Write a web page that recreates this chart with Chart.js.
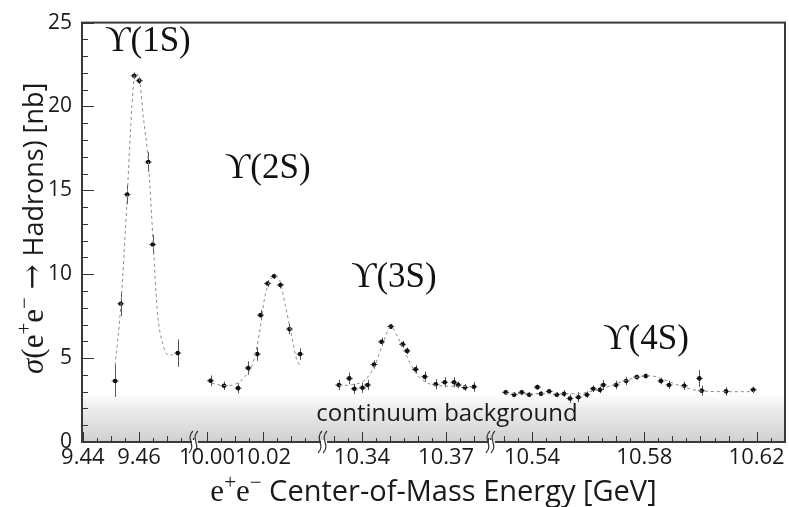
<!DOCTYPE html>
<html>
<head>
<meta charset="utf-8">
<script src="https://cdn.jsdelivr.net/npm/chart.js@4.4.1/dist/chart.umd.min.js"></script>
<style>
  html, body { margin: 0; padding: 0; background: #fff; }
  #wrap { width: 789px; height: 507px; }
</style>
</head>
<body>
<div id="wrap"><canvas id="chart" width="789" height="507"></canvas></div>
<script>
// pieces of the broken energy axis [GeV]
const SEGMENTS = [
  [9.4397, 9.4792],
  [9.9950, 10.0410],
  [10.3258, 10.3856],
  [10.5250, 10.6301],
];
const TICK_LABELS = [9.44, 9.46, 10.00, 10.02, 10.34, 10.37, 10.54, 10.58, 10.62];
const Y_MAX = 25;
const CONTINUUM_LEVEL = 2.9;

// measured cross sections (energy, sigma, error)
const energy1S = [9.4515, 9.4535, 9.4558, 9.4583, 9.4601, 9.4633, 9.4649, 9.4738];
const sigma1S = [3.64, 8.24, 14.75, 21.83, 21.54, 16.69, 11.77, 5.30];
const error1S = [0.95, 0.72, 0.58, 0.2, 0.2, 0.58, 0.58, 0.82];

const energy2S = [10.0013, 10.0061, 10.0111, 10.0147, 10.0179, 10.0191, 10.0216, 10.0239, 10.0262, 10.0294, 10.0332];
const sigma2S = [3.65, 3.35, 3.21, 4.41, 5.24, 7.56, 9.45, 9.88, 9.36, 6.73, 5.24];
const error2S = [0.32, 0.25, 0.3, 0.4, 0.4, 0.3, 0.2, 0.15, 0.2, 0.3, 0.35];

const energy3S = [10.3318, 10.3355, 10.3373, 10.3402, 10.3420, 10.3443, 10.3470, 10.3503, 10.3545, 10.3561, 10.3591, 10.3624, 10.3663, 10.3695, 10.3728, 10.3743, 10.3767, 10.3799];
const sigma3S = [3.40, 3.79, 3.17, 3.23, 3.40, 4.62, 5.97, 6.88, 5.82, 5.43, 4.33, 3.89, 3.44, 3.56, 3.56, 3.40, 3.25, 3.29];
const error3S = [0.3, 0.35, 0.3, 0.3, 0.3, 0.25, 0.25, 0.15, 0.2, 0.2, 0.25, 0.3, 0.3, 0.3, 0.3, 0.2, 0.2, 0.3];

const energy4S = [10.5306, 10.5336, 10.5363, 10.5390, 10.5419, 10.5432, 10.5461, 10.5488, 10.5514, 10.5535, 10.5565, 10.5595, 10.5618, 10.5642, 10.5654, 10.5699, 10.5735, 10.5773, 10.5805, 10.5859, 10.5888, 10.5942, 10.5996, 10.6004, 10.6091, 10.6188];
const sigma4S = [2.96, 2.82, 2.96, 2.82, 3.27, 2.88, 3.02, 2.82, 2.88, 2.59, 2.67, 2.82, 3.17, 3.11, 3.40, 3.40, 3.64, 3.87, 3.93, 3.64, 3.40, 3.35, 3.79, 3.06, 3.02, 3.11];
const error4S = [0.15, 0.15, 0.15, 0.15, 0.15, 0.15, 0.15, 0.15, 0.2, 0.25, 0.3, 0.2, 0.2, 0.2, 0.3, 0.25, 0.25, 0.15, 0.15, 0.2, 0.25, 0.25, 0.5, 0.3, 0.25, 0.2];

// fitted line shapes
const fitEnergy1S = [9.4515, 9.4535, 9.4556, 9.4574, 9.4586, 9.4601, 9.4615, 9.4633, 9.4651, 9.4665, 9.4687, 9.4710, 9.4728];
const fitSigma1S = [4.56, 8.06, 14.0, 19.8, 21.97, 21.68, 19.45, 16.74, 11.72, 7.85, 5.72, 5.14, 5.34];
const fitEnergy2S = [10.0017, 10.0064, 10.0100, 10.0135, 10.0165, 10.0189, 10.0206, 10.0224, 10.0242, 10.0260, 10.0278, 10.0302, 10.0319, 10.0331];
const fitSigma2S = [3.50, 3.36, 3.44, 3.89, 4.76, 6.69, 8.63, 9.59, 9.88, 9.59, 8.24, 6.30, 4.95, 4.56];
const fitEnergy3S = [10.3318, 10.3375, 10.3411, 10.3446, 10.3476, 10.3503, 10.3529, 10.3559, 10.3589, 10.3624, 10.3672, 10.3743, 10.3799];
const fitSigma3S = [3.36, 3.44, 3.69, 4.56, 5.92, 6.88, 6.21, 5.14, 4.18, 3.60, 3.36, 3.32, 3.29];
const fitEnergy4S = [10.5306, 10.5428, 10.5553, 10.5642, 10.5713, 10.5784, 10.5820, 10.5873, 10.5927, 10.5998, 10.6105, 10.6194];
const fitSigma4S = [2.90, 2.88, 2.88, 3.15, 3.55, 3.90, 3.95, 3.70, 3.35, 3.05, 3.00, 3.00];

const peakNames = ["ϒ(1S)", "ϒ(2S)", "ϒ(3S)", "ϒ(4S)"];
const peakLabelEnergy = [9.4632, 10.0217, 10.3514, 10.5806];
const peakLabelSigma = [23.84, 16.3, 9.8, 6.09];
const continuumLabel = { text: "continuum background", energy: 10.3703, sigma: 1.68 };

const SANS = '"Open Sans", "Noto Sans", sans-serif';
const SERIF = '"Liberation Serif", "DejaVu Serif", serif';

// energy -> position on the glued axis
const offsets = SEGMENTS.reduce((acc, [lo, hi], i) => [...acc, acc[i] + hi - lo], [0]);
const U_MAX = offsets[SEGMENTS.length];
const toU = (e) => {
  const i = SEGMENTS.findIndex(([lo, hi]) => e >= lo - 1e-9 && e <= hi + 1e-9);
  return offsets[i] + e - SEGMENTS[i][0];
};
const points = (es, ss) => es.map((e, i) => ({ x: toU(e), y: ss[i] }));

const measured = [
  [energy1S, sigma1S, error1S],
  [energy2S, sigma2S, error2S],
  [energy3S, sigma3S, error3S],
  [energy4S, sigma4S, error4S],
];
const fits = [
  [fitEnergy1S, fitSigma1S],
  [fitEnergy2S, fitSigma2S],
  [fitEnergy3S, fitSigma3S],
  [fitEnergy4S, fitSigma4S],
];

const fitDatasets = fits.map(([es, ss]) => ({
  data: points(es, ss),
  showLine: true,
  borderColor: "#8c8c8c",
  borderWidth: 1,
  borderDash: [3, 3],
  pointRadius: 0,
  cubicInterpolationMode: "monotone",
}));
const pointDatasets = measured.map(([es, ss, errs]) => ({
  data: points(es, ss),
  errors: errs,
  pointRadius: 2.3,
  pointBackgroundColor: "#111",
  pointBorderColor: "#111",
  pointBorderWidth: 0,
}));

const line = (ctx, x1, y1, x2, y2) => {
  ctx.beginPath();
  ctx.moveTo(x1, y1);
  ctx.lineTo(x2, y2);
  ctx.stroke();
};

const drawRuns = (ctx, runs, cx, baseline) => {
  const widths = runs.map((r) => {
    ctx.font = r.font;
    return ctx.measureText(r.t).width;
  });
  let x = cx - widths.reduce((a, b) => a + b, 0) / 2;
  ctx.textAlign = "left";
  ctx.textBaseline = "alphabetic";
  runs.forEach((r, i) => {
    ctx.font = r.font;
    ctx.fillText(r.t, x, baseline + (r.dy || 0));
    x += widths[i];
  });
};

const decorations = {
  id: "decorations",
  beforeDatasetsDraw(chart) {
    const { ctx, chartArea: area, scales } = chart;
    const { x: xs, y: ys } = scales;
    ctx.save();
    // continuum band
    const yTop = ys.getPixelForValue(CONTINUUM_LEVEL);
    const grad = ctx.createLinearGradient(0, yTop, 0, area.bottom);
    grad.addColorStop(0, "rgba(255,255,255,1)");
    grad.addColorStop(0.35, "#ebebeb");
    grad.addColorStop(1, "#d0d0d0");
    ctx.fillStyle = grad;
    ctx.fillRect(area.left, yTop, area.right - area.left, area.bottom - yTop);

    ctx.fillStyle = "#1a1a1a";
    ctx.font = "24px " + SANS;
    ctx.textAlign = "center";
    ctx.textBaseline = "middle";
    ctx.fillText(continuumLabel.text,
      xs.getPixelForValue(toU(continuumLabel.energy)),
      ys.getPixelForValue(continuumLabel.sigma));

    // error bars
    ctx.strokeStyle = "#555";
    ctx.lineWidth = 1;
    chart.data.datasets.forEach((ds, i) => {
      if (!ds.errors) return;
      chart.getDatasetMeta(i).data.forEach((pt, j) => {
        const v = ds.data[j].y;
        const x = Math.round(pt.x) + 0.5;
        line(ctx, x, ys.getPixelForValue(v + ds.errors[j]), x, ys.getPixelForValue(v - ds.errors[j]));
        line(ctx, pt.x - 3.5, pt.y, pt.x + 3.5, pt.y);
      });
    });
    ctx.restore();
  },
  afterDraw(chart) {
    const { ctx, chartArea: area, scales } = chart;
    const { x: xs, y: ys } = scales;
    ctx.save();
    ctx.strokeStyle = "#333";
    ctx.lineWidth = 1;

    // y ticks
    for (let v = 0; v <= Y_MAX; v++) {
      const y = Math.round(ys.getPixelForValue(v)) + 0.5;
      line(ctx, area.left, y, area.left + (v % 5 === 0 ? 12 : 6), y);
    }
    // x ticks, every 5 MeV inside each piece
    SEGMENTS.forEach(([lo, hi]) => {
      for (let k = Math.ceil(lo / 0.005 - 1e-6); k * 0.005 <= hi + 1e-9; k++) {
        const e = k * 0.005;
        const x = Math.round(xs.getPixelForValue(toU(e))) + 0.5;
        const labelled = TICK_LABELS.some((t) => Math.abs(t - e) < 1e-6);
        const len = labelled ? 10 : k % 2 === 0 ? 6 : 4;
        line(ctx, x, area.bottom, x, area.bottom - len);
      }
    });

    // frame
    ctx.strokeStyle = "#3a3a3a";
    ctx.lineWidth = 2;
    ctx.strokeRect(area.left, area.top, area.right - area.left, area.bottom - area.top);

    // axis break marks
    offsets.slice(1, SEGMENTS.length).forEach((u) => {
      const x = xs.getPixelForValue(u);
      const t = area.bottom - 11, b = area.bottom + 11;
      const wave = (dx) => {
        ctx.moveTo(x + dx + 2, t);
        ctx.bezierCurveTo(x + dx - 6, t + 8, x + dx + 6, b - 8, x + dx - 2, b);
      };
      ctx.fillStyle = "#fff";
      ctx.fillRect(x - 1, area.bottom - 2, 6, 4);
      ctx.strokeStyle = "#333";
      ctx.lineWidth = 1.2;
      ctx.beginPath();
      wave(-2);
      wave(3);
      ctx.stroke();
    });

    // peak labels
    ctx.fillStyle = "#111";
    ctx.font = "35px " + SERIF;
    ctx.textAlign = "center";
    ctx.textBaseline = "middle";
    peakNames.forEach((name, i) => {
      ctx.fillText(name, xs.getPixelForValue(toU(peakLabelEnergy[i])), ys.getPixelForValue(peakLabelSigma[i]));
    });

    // axis titles
    ctx.fillStyle = "#1a1a1a";
    const serif = "31px " + SERIF, sup = "21px " + SERIF;
    drawRuns(ctx, [
      { t: "e", font: serif },
      { t: "+", font: sup, dy: -12 },
      { t: "e", font: serif },
      { t: "−", font: sup, dy: -12 },
      { t: " Center-of-Mass Energy [GeV]", font: "29px " + SANS },
    ], (area.left + area.right) / 2, 501);

    ctx.translate(43, (area.top + area.bottom) / 2 - 4);
    ctx.rotate(-Math.PI / 2);
    drawRuns(ctx, [
      { t: "σ", font: "italic " + serif },
      { t: "(", font: serif },
      { t: "e", font: serif },
      { t: "+", font: sup, dy: -12 },
      { t: "e", font: serif },
      { t: "−", font: sup, dy: -12 },
      { t: " ", font: serif },
      { t: "→", font: '30px "DejaVu Serif", serif', dy: -1 },
      { t: " ", font: serif },
      { t: "Hadrons) [nb]", font: "27px " + SANS },
    ], 0, 0);
    ctx.restore();
  },
};

const build = () => new Chart(document.getElementById("chart"), {
  type: "scatter",
  data: { datasets: [...fitDatasets, ...pointDatasets] },
  plugins: [decorations],
  options: {
    responsive: false,
    animation: false,
    devicePixelRatio: 1,
    layout: { padding: { top: 11, right: 4, left: 0, bottom: 0 } },
    plugins: { legend: { display: false }, tooltip: { enabled: false } },
    scales: {
      x: {
        type: "linear",
        min: 0,
        max: U_MAX,
        grid: { display: false, drawTicks: false },
        border: { display: false },
        afterBuildTicks: (scale) => {
          scale.ticks = TICK_LABELS.map((v) => ({ value: toU(v) }));
        },
        afterFit: (scale) => { scale.height = 65; },
        ticks: {
          autoSkip: false,
          maxRotation: 0,
          padding: 3,
          color: "#1a1a1a",
          font: { family: SANS, size: 22 },
          callback: (value, i) => TICK_LABELS[i].toFixed(2),
        },
      },
      y: {
        min: 0,
        max: Y_MAX,
        grid: { display: false, drawTicks: false },
        border: { display: false },
        afterFit: (scale) => { scale.width = 82; },
        ticks: {
          stepSize: 5,
          padding: 10,
          color: "#1a1a1a",
          font: { family: SANS, size: 21 },
        },
      },
    },
  },
});

Promise.all([
  document.fonts.load('21px "Open Sans"'),
  document.fonts.load('30px "Liberation Serif"'),
  document.fonts.load('30px "DejaVu Serif"'),
]).catch(() => {}).then(build);
</script>
</body>
</html>
